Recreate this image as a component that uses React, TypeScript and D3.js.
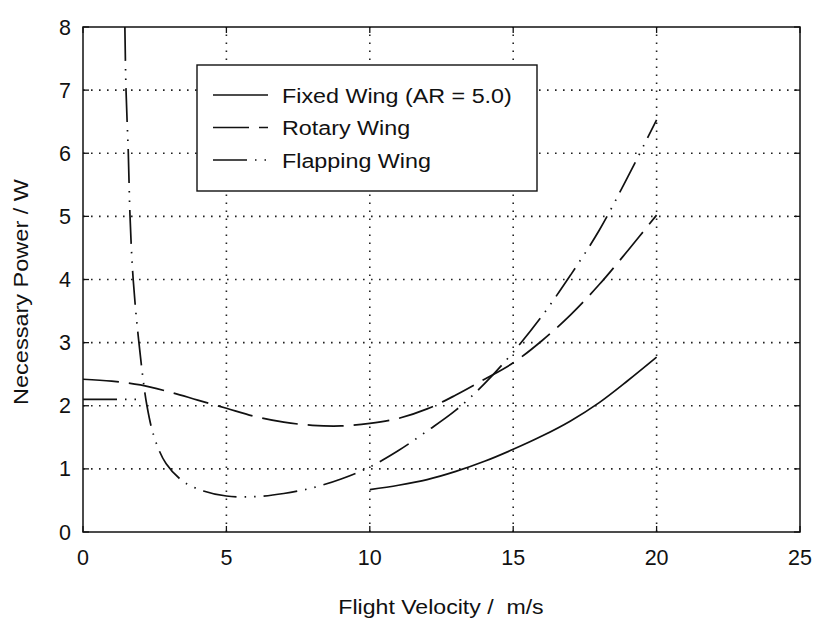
import React from 'react';
import * as d3 from 'd3';

// tick values
const xTicks = [0, 5, 10, 15, 20, 25];
const yTicks = [0, 1, 2, 3, 4, 5, 6, 7, 8];

// Fixed Wing (AR = 5.0)
const fixedVel = [10, 11, 12, 13, 14, 15, 16, 17, 18, 19, 20];
const fixedPow = [0.67, 0.74, 0.83, 0.96, 1.12, 1.31, 1.52, 1.76, 2.05, 2.4, 2.77];

// Rotary Wing
const rotaryVel = [0, 1, 2, 3, 4, 5, 6, 7, 8, 9, 10, 11, 12, 13, 14, 15, 16, 17, 18, 19, 20];
const rotaryPow = [2.42, 2.39, 2.33, 2.22, 2.09, 1.96, 1.83, 1.74, 1.69, 1.68, 1.72, 1.8, 1.95, 2.17, 2.42, 2.68, 3.03, 3.44, 3.92, 4.46, 5.02];

// Flapping Wing
const flapVel = [1.46, 1.5, 1.58, 1.64, 1.75, 1.95, 2.23, 2.5, 2.9, 3.5, 4.2, 5, 6, 7, 8, 9, 10, 11, 12, 13, 14, 15, 16, 17, 18, 19, 20];
const flapPow = [8, 7, 6, 5, 4, 3, 2, 1.48, 1.08, 0.8, 0.65, 0.57, 0.56, 0.61, 0.7, 0.84, 1.03, 1.29, 1.6, 1.93, 2.35, 2.85, 3.42, 4.07, 4.78, 5.63, 6.53];
// short flapping segment at low speed
const flapHoverVel = [0, 2.05];
const flapHoverPow = [2.1, 2.1];

const legendNames = ['Fixed Wing (AR = 5.0)', 'Rotary Wing', 'Flapping Wing'];
const dashes = ['none', '36,10', '34,8,1.5,8,1.5,8'];

const width = 814,
  height = 618;
const left = 83,
  right = 800,
  top = 27,
  bottom = 532;
const font = "'Liberation Sans', Arial, Helvetica, sans-serif";

const zip = (xs: number[], ys: number[]) => xs.map((x, i) => [x, ys[i]] as [number, number]);

export default function App() {
  const x = d3.scaleLinear().domain([0, 25]).range([left, right]);
  const y = d3.scaleLinear().domain([0, 8]).range([bottom, top]);

  const line = d3
    .line<[number, number]>()
    .curve(d3.curveCatmullRom.alpha(0.5))
    .x(d => x(d[0]))
    .y(d => y(d[1]));

  const series = [
    { d: zip(fixedVel, fixedPow), dash: dashes[0] },
    { d: zip(rotaryVel, rotaryPow), dash: dashes[1] },
    { d: zip(flapVel, flapPow), dash: dashes[2] },
    { d: zip(flapHoverVel, flapHoverPow), dash: dashes[2] }
  ];

  const tickLen = 6;

  return (
    <svg
      width={width}
      height={height}
      style={{ position: 'absolute', left: 0, top: 0, background: '#fff' }}
      fontFamily={font}
    >
      <defs>
        <clipPath id="plot">
          <rect x={left} y={top} width={right - left} height={bottom - top} />
        </clipPath>
      </defs>

      {/* grid */}
      {xTicks.slice(1, -1).map(t => (
        <line key={'gx' + t} x1={x(t)} x2={x(t)} y1={bottom} y2={top}
          stroke="#222" strokeWidth={1.6} strokeDasharray="1.6,6.4" />
      ))}
      {yTicks.slice(1, -1).map(t => (
        <line key={'gy' + t} x1={left} x2={right} y1={y(t)} y2={y(t)}
          stroke="#222" strokeWidth={1.6} strokeDasharray="1.6,6.4" />
      ))}

      {/* curves */}
      <g clipPath="url(#plot)">
        {series.map((s, i) => (
          <path key={i} d={line(s.d) || ''} fill="none" stroke="#111"
            strokeWidth={1.7} strokeDasharray={s.dash} />
        ))}
      </g>

      {/* frame and ticks */}
      <rect x={left} y={top} width={right - left} height={bottom - top}
        fill="none" stroke="#111" strokeWidth={1.5} />
      {xTicks.map(t => (
        <g key={'tx' + t}>
          <line x1={x(t)} x2={x(t)} y1={bottom} y2={bottom - tickLen} stroke="#111" strokeWidth={1.3} />
          <line x1={x(t)} x2={x(t)} y1={top} y2={top + tickLen} stroke="#111" strokeWidth={1.3} />
          <text x={x(t)} y={565} textAnchor="middle" fontSize={21.5} fill="#111">{t}</text>
        </g>
      ))}
      {yTicks.map(t => (
        <g key={'ty' + t}>
          <line x1={left} x2={left + tickLen} y1={y(t)} y2={y(t)} stroke="#111" strokeWidth={1.3} />
          <line x1={right} x2={right - tickLen} y1={y(t)} y2={y(t)} stroke="#111" strokeWidth={1.3} />
          <text x={71} y={y(t) + 7.5} textAnchor="end" fontSize={21.5} fill="#111">{t}</text>
        </g>
      ))}

      {/* axis titles */}
      <g transform="translate(441,614) scale(1.1,1)">
        <text textAnchor="middle" fontSize={21} fill="#111" style={{ whiteSpace: 'pre' }}>
          {'Flight Velocity /  m/s'}
        </text>
      </g>
      <g transform="translate(28,292) rotate(-90) scale(1.12,1)">
        <text textAnchor="middle" fontSize={21} fill="#111">Necessary Power / W</text>
      </g>

      {/* legend */}
      <rect x={197} y={65} width={340} height={126} fill="#fff" stroke="#111" strokeWidth={1.4} />
      {legendNames.map((name, i) => {
        const cy = 95 + i * 32.5;
        return (
          <g key={name}>
            <line x1={213} x2={268} y1={cy} y2={cy} stroke="#111" strokeWidth={1.7}
              strokeDasharray={dashes[i]} />
            <g transform={`translate(282,${cy + 7.5}) scale(1.11,1)`}>
              <text fontSize={21} fill="#111">{name}</text>
            </g>
          </g>
        );
      })}
    </svg>
  );
}
